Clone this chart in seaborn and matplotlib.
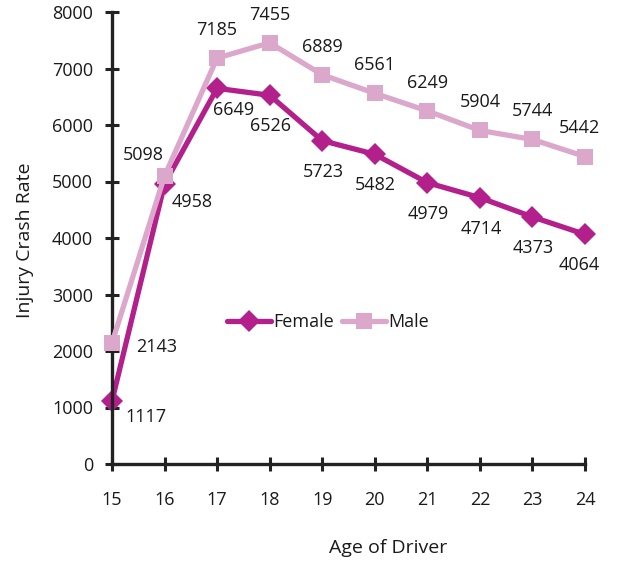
import matplotlib
matplotlib.use("Agg")
import matplotlib.pyplot as plt
import pandas as pd
import seaborn as sns

ages = [15, 16, 17, 18, 19, 20, 21, 22, 23, 24]
female = [1117, 4958, 6649, 6526, 5723, 5482, 4979, 4714, 4373, 4064]
male = [2143, 5098, 7185, 7455, 6889, 6561, 6249, 5904, 5744, 5442]

df = pd.DataFrame({
    "age": ages * 2,
    "rate": female + male,
    "sex": ["Female"] * len(ages) + ["Male"] * len(ages),
})

sns.set_style("white")
plt.rcParams['font.family'] = ['Open Sans', 'DejaVu Sans']

colors = {"Female": "#B3208C", "Male": "#DBA7CB"}
txt = "#1a1a1a"

fig = plt.figure(figsize=(6.19, 5.64), dpi=100)
ax = fig.add_axes([112 / 619, 1 - 464 / 564, 473 / 619, 452 / 564])

sns.lineplot(data=df, x="age", y="rate", hue="sex", style="sex",
             markers={"Female": "D", "Male": "s"}, dashes=False,
             palette=colors, linewidth=3.8, markersize=11,
             markeredgewidth=0, ax=ax)
for line in ax.lines:
    line.set_clip_on(False)
    if line.get_color().lower() == colors["Male"].lower():
        line.set_zorder(3)

# data labels, offsets in pixels
male_off = [(45, -4), (-21, 21)] + [(0, 28)] * 7 + [(-6, 29)]
female_off = [(34, -16), (28, -18), (16, -22)] + [(1, -31)] * 6 + [(-6, -31)]
for x, y, off in zip(ages, male, male_off):
    ax.annotate(str(y), (x, y), xytext=off, textcoords="offset pixels",
                ha="center", va="center", fontsize=13, color=txt)
for x, y, off in zip(ages, female, female_off):
    ax.annotate(str(y), (x, y), xytext=off, textcoords="offset pixels",
                ha="center", va="center", fontsize=13, color=txt)

ax.set_xlim(15, 24)
ax.set_ylim(0, 8000)
ax.set_xticks(ages)
ax.set_yticks(range(0, 8001, 1000))
ax.tick_params(axis="both", direction="inout", length=9.4, width=2.2,
               bottom=True, left=True, color="#222222",
               labelsize=13, labelcolor=txt)
ax.tick_params(axis="x", pad=15)
ax.tick_params(axis="y", pad=9)
for side in ["top", "right"]:
    ax.spines[side].set_visible(False)
for side in ["left", "bottom"]:
    ax.spines[side].set_linewidth(2.4)
    ax.spines[side].set_color("#222222")

ax.set_xlabel("Age of Driver", fontsize=14, color=txt, va="center")
ax.set_ylabel("Injury Crash Rate", fontsize=14, color=txt, va="center")
ax.xaxis.set_label_coords((388 - 112) / 473, (464 - 548) / 452)
ax.yaxis.set_label_coords((25 - 112) / 473, 0.496)

leg = ax.legend(loc="center", bbox_to_anchor=(0.457, 0.314), ncol=2,
                frameon=False, handlelength=2.4, handletextpad=0.15,
                columnspacing=0.45, fontsize=13)
for h in leg.legend_handles:
    h.set_linewidth(3.8)
for t in leg.get_texts():
    t.set_color(txt)

fig.savefig("out.png", dpi=100)
